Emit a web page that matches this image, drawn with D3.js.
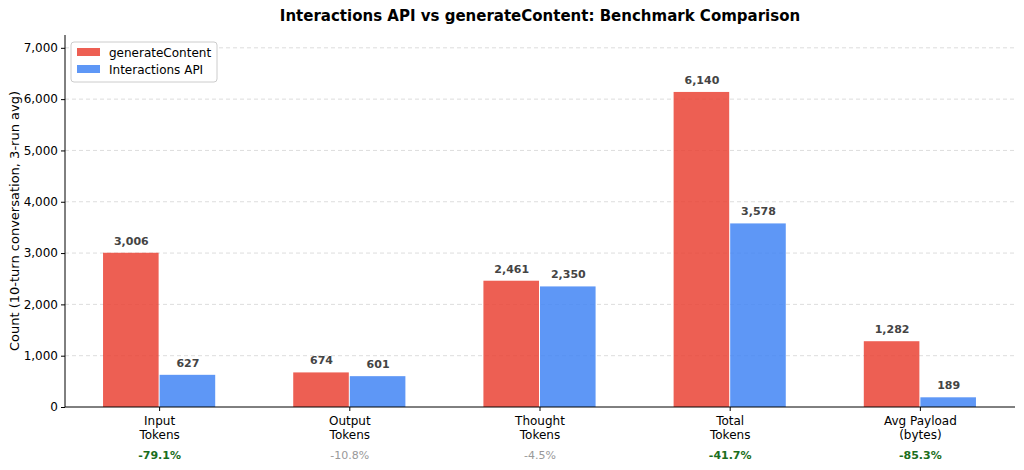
<!DOCTYPE html>
<html><head><meta charset="utf-8">
<script src="https://cdn.jsdelivr.net/npm/d3@7"></script>
<style>body{margin:0;background:#fff;font-family:"DejaVu Sans",sans-serif}</style>
</head><body><svg width="1024" height="470"></svg>
<script>
const categories = ["Input\nTokens", "Output\nTokens", "Thought\nTokens", "Total\nTokens", "Avg Payload\n(bytes)"];
const generateContent = [3006, 674, 2461, 6140, 1282];
const interactions = [627, 601, 2350, 3578, 189];
const deltas = ["-79.1%", "-10.8%", "-4.5%", "-41.7%", "-85.3%"];
const yTicks = [0, 1000, 2000, 3000, 4000, 5000, 6000, 7000];

const svg = d3.select("svg");
const m = {l: 65, r: 1015, t: 35, b: 407};
const x = d3.scaleBand().domain(categories).range([m.l, m.r]).paddingInner(0.405).paddingOuter(0.2);
const y = d3.scaleLinear().domain([0, 7250]).range([m.b, m.t]);
const bw = x.bandwidth() / 2;
const red = "#ea4335", blue = "#4285f4";

svg.append("text").attr("x", 540).attr("y", 21).attr("text-anchor", "middle")
  .attr("font-size", 15).attr("font-weight", "bold").text("Interactions API vs generateContent: Benchmark Comparison");

// grid
svg.append("g").selectAll("line").data(yTicks.slice(1)).join("line")
  .attr("x1", m.l).attr("x2", m.r).attr("y1", d => y(d)).attr("y2", d => y(d))
  .attr("stroke", "#ddd").attr("stroke-dasharray", "4,3");

const yAxis = svg.append("g").attr("transform", `translate(${m.l},0)`)
  .call(d3.axisLeft(y).tickValues(yTicks).tickSize(4).tickSizeOuter(0));
yAxis.selectAll("text").attr("font-size", 12).attr("fill", "#000").attr("font-family", "DejaVu Sans");
yAxis.select(".domain").attr("d", `M0,${m.t}V${m.b}`);

svg.append("text").attr("transform", `translate(19,${(m.t + m.b) / 2}) rotate(-90)`)
  .attr("text-anchor", "middle").attr("font-size", 13).text("Count (10-turn conversation, 3-run avg)");

const series = [{vals: generateContent, color: red, off: 0}, {vals: interactions, color: blue, off: bw}];
series.forEach(s => {
  svg.append("g").selectAll("rect").data(categories).join("rect")
    .attr("x", (c) => x(c) + s.off).attr("width", bw - 1)
    .attr("y", (c, i) => y(s.vals[i])).attr("height", (c, i) => m.b - y(s.vals[i]))
    .attr("fill", s.color).attr("fill-opacity", 0.85);
  svg.append("g").selectAll("text").data(categories).join("text")
    .attr("x", c => x(c) + s.off + bw / 2).attr("y", (c, i) => y(s.vals[i]) - 8)
    .attr("text-anchor", "middle").attr("font-size", 11).attr("font-weight", "bold").attr("fill", "#444")
    .text((c, i) => d3.format(",")(s.vals[i]));
});

// x axis
svg.append("line").attr("x1", m.l).attr("x2", m.r).attr("y1", m.b).attr("y2", m.b).attr("stroke", "#000");
categories.forEach((c, i) => {
  const cx = x(c) + x.bandwidth() / 2;
  svg.append("line").attr("x1", cx).attr("x2", cx).attr("y1", m.b).attr("y2", m.b + 4).attr("stroke", "#000");
  c.split("\n").forEach((ln, j) => svg.append("text").attr("x", cx).attr("y", m.b + 18 + j * 14)
    .attr("text-anchor", "middle").attr("font-size", 12).text(ln));
  const big = Math.abs(parseFloat(deltas[i])) > 20;
  svg.append("text").attr("x", cx).attr("y", m.b + 52).attr("text-anchor", "middle").attr("font-size", 11)
    .attr("font-weight", big ? "bold" : "normal").attr("fill", big ? "#1b6e20" : "#999").text(deltas[i]);
});

// legend
const lg = svg.append("g").attr("transform", "translate(71,42)");
lg.append("rect").attr("width", 146).attr("height", 40).attr("rx", 3).attr("fill", "#fff").attr("stroke", "#ccc");
[["generateContent", red], ["Interactions API", blue]].forEach(([t, col], i) => {
  lg.append("rect").attr("x", 6).attr("y", 6 + i * 17).attr("width", 23).attr("height", 8).attr("fill", col).attr("fill-opacity", 0.85);
  lg.append("text").attr("x", 38).attr("y", 15 + i * 17).attr("font-size", 12).text(t);
});
</script></body></html>
